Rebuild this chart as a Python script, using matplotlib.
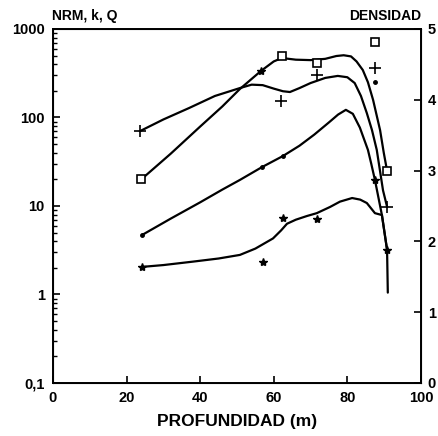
import matplotlib
matplotlib.use("Agg")
import matplotlib.pyplot as plt
from matplotlib.ticker import FixedLocator, LogLocator, NullFormatter

plt.rcParams['font.family'] = ['Liberation Sans', 'DejaVu Sans']
plt.rcParams['font.weight'] = 'bold'

# curves (profundidad m, valor)
curve_a_x = [24, 32, 40, 46, 50.8, 56.5, 60, 62.2, 66, 70, 74, 77, 79, 81, 82.5, 84.2, 85.6, 87, 88.9, 89.9, 90.8]
curve_a_y = [20, 39, 79, 133, 210, 335, 430, 470, 450, 445, 460, 495, 505, 490, 430, 344, 250, 158, 72, 40, 25]

curve_b_x = [23.6, 30, 37, 44, 50.8, 54, 57, 60, 62.5, 64.4, 67, 70, 74, 77.4, 80, 82, 83.7, 85.3, 86.7, 88, 89.7, 90.8]
curve_b_y = [70, 95, 128, 175, 215, 235, 232, 212, 198, 194, 215, 245, 280, 295, 285, 245, 175, 112, 72, 43, 15, 9.8]

curve_c_x = [24.2, 32, 40, 46, 50.8, 56.8, 62.5, 67, 71, 75, 77.5, 79.6, 81.5, 83.4, 85.6, 86.5, 87.5, 89.4, 90.8]
curve_c_y = [4.7, 7.2, 11, 15.3, 19.7, 27.5, 36.7, 48, 64, 88, 108, 122, 110, 77, 43, 30, 19.7, 7.9, 3.2]

curve_d_x = [24.2, 30, 38, 45, 50.8, 55, 59.8, 62, 63.6, 66, 69, 71.7, 75.3, 78, 81.3, 83.5, 85.3, 87.5, 89.4, 90.8, 91.0]
curve_d_y = [2.05, 2.15, 2.35, 2.55, 2.8, 3.3, 4.3, 5.3, 6.3, 7.0, 7.7, 8.3, 9.75, 11.2, 12.3, 11.8, 10.8, 8.3, 7.9, 3.2, 1.05]

# markers
sq_x = [24, 62.2, 71.7, 87.5, 90.8]
sq_y = [20, 495, 413, 713, 24.8]
plus_x = [23.6, 62, 71.7, 87.5, 90.8]
plus_y = [70, 153, 302, 363, 9.8]
star_x = [24.2, 56.5, 57, 62.5, 71.7, 87.5, 90.8]
star_y = [2.05, 335, 2.33, 7.3, 7.1, 19.7, 3.2]
dot_x = [24.2, 56.8, 62.5, 87.5]
dot_y = [4.7, 27.5, 36.7, 252]

left_ticks = [0.1, 1, 10, 100, 1000]
left_labels = ['0,1', '1', '10', '100', '1000']
right_ticks = [0, 1, 2, 3, 4, 5]
x_ticks = [0, 20, 40, 60, 80, 100]

fig = plt.figure(figsize=(4.38, 4.36), dpi=100)
ax = fig.add_axes([0.121, 0.1216, 0.840, 0.8119])

for cx, cy in [(curve_a_x, curve_a_y), (curve_b_x, curve_b_y),
               (curve_c_x, curve_c_y), (curve_d_x, curve_d_y)]:
    ax.plot(cx, cy, color='black', lw=1.6, solid_capstyle='round', solid_joinstyle='round')

ax.plot(sq_x, sq_y, 's', ms=5.5, mfc='white', mec='black', mew=1.2)
ax.plot(plus_x, plus_y, '+', ms=8, color='black', mew=1.2)
ax.plot(star_x, star_y, '*', ms=6, color='black')
ax.plot(dot_x, dot_y, 'o', ms=2.5, color='black')

ax.set_yscale('log')
ax.set_ylim(0.1, 1000)
ax.set_xlim(0, 100)
ax.yaxis.set_major_locator(FixedLocator(left_ticks))
ax.set_yticklabels(left_labels)
ax.yaxis.set_minor_locator(LogLocator(base=10, subs=range(2, 10)))
ax.yaxis.set_minor_formatter(NullFormatter())
ax.set_xticks(x_ticks)

ax.tick_params(axis='both', which='major', direction='in', length=5, width=1.2,
               labelsize=10.5, pad=6)
ax.tick_params(axis='y', which='minor', direction='in', length=3, width=1)
ax.tick_params(top=False)
for s in ax.spines.values():
    s.set_linewidth(1.4)

ax2 = ax.twinx()
ax2.set_ylim(0, 5)
ax2.set_yticks(right_ticks)
ax2.tick_params(axis='y', direction='in', length=5, width=1.2, labelsize=10.5, pad=5)

ax.set_xlabel('PROFUNDIDAD (m)', fontsize=12.5, fontweight='bold', labelpad=6)
fig.text(0.119, 0.955, 'NRM, k, Q', fontsize=10, fontweight='bold', ha='left')
fig.text(0.961, 0.955, 'DENSIDAD', fontsize=10, fontweight='bold', ha='right')

plt.savefig('out.png', dpi=100)
